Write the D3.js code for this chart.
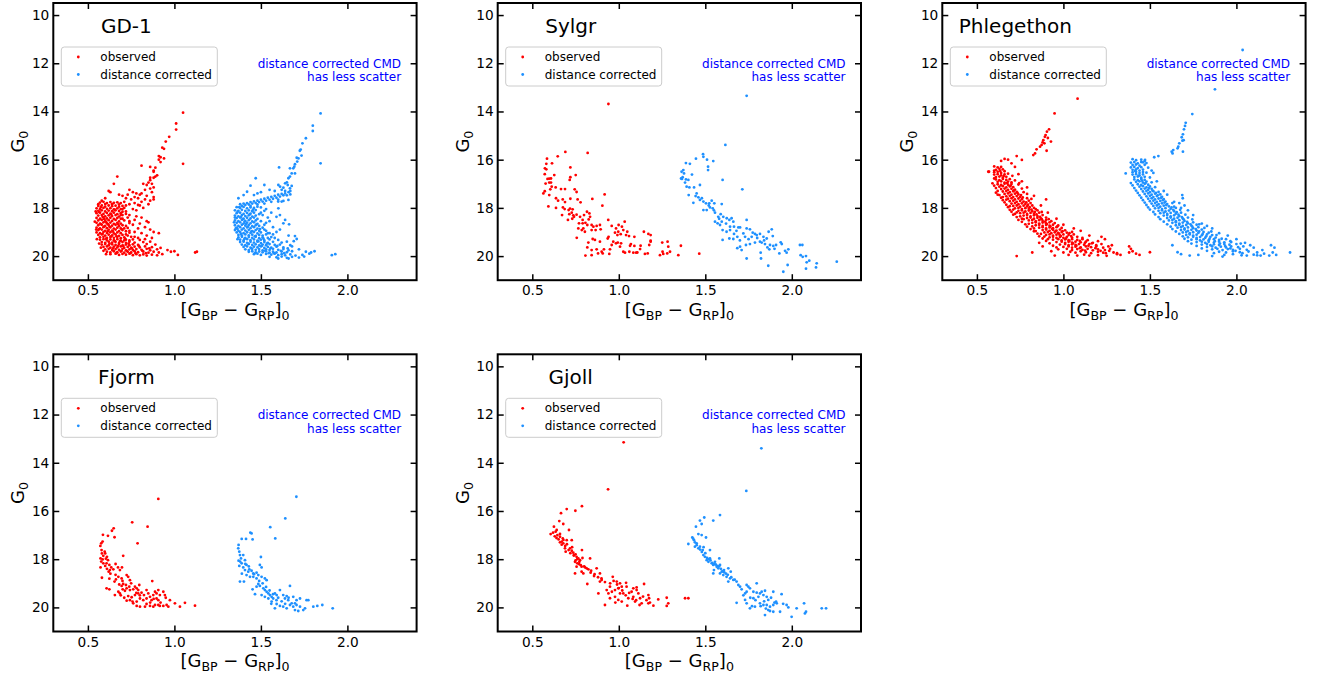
<!DOCTYPE html>
<html>
<head>
<meta charset="utf-8">
<script src="https://cdn.jsdelivr.net/npm/d3@7"></script>
<style>
  body { margin: 0; background: #fff; }
  svg { display: block; font-family: "DejaVu Sans", sans-serif; }
</style>
</head>
<body>
<svg id="chart" width="1321" height="679"></svg>
<script>
// axis ticks
const xTicks = [0.5, 1.0, 1.5, 2.0];
const yTicks = [10, 12, 14, 16, 18, 20];

// GD-1 [colour, G0]
const gd1Obs = [
  [1.05,14.05],[1.01,14.5],[1.01,14.75],[0.97,15.05],[0.95,15.25],[0.93,15.5],[0.94,15.55],[0.91,15.85],[0.92,15.9],[0.94,15.95],
  [0.91,16.0],[0.92,16.1],[1.05,16.17],[0.81,16.25],[0.86,16.3],[0.89,16.33],[0.88,16.45],[0.88,16.5],[0.9,16.65],[0.89,16.7],
  [0.88,16.75],[0.86,16.75],[0.86,16.85],[0.67,16.7],[0.65,17.0],[0.85,16.95],[0.87,17.0],[0.84,17.05],[0.82,17.0],[0.88,17.15],
  [0.86,17.2],[0.83,17.25],[0.87,17.35],[0.81,17.4],[0.8,17.45],[0.78,17.4],[0.76,17.35],[0.74,17.25],[0.73,17.45],[0.72,17.6],
  [0.7,17.5],[0.77,17.55],[0.79,17.6],[0.84,17.5],[0.88,17.55],[0.86,17.7],[0.83,17.65],[0.88,17.65],[0.85,17.85],[0.62,17.3],
  [0.63,17.35],[0.6,17.6],[0.58,17.7],[0.68,17.45],[0.75,17.65],[0.81,17.75],[0.77,17.8],[0.8,17.9],[0.74,17.85],[0.71,17.75],
  [0.79,17.88],[0.82,18.0],[0.78,18.1],[0.76,18.05],[0.72,18.15],[0.74,18.3],[0.78,18.35],[0.81,18.4],[0.77,18.5],[0.74,18.55],
  [0.84,18.55],[0.85,18.6],[0.8,18.65],[0.76,18.7],[0.72,18.75],[0.83,18.8],[0.79,18.85],[0.86,18.9],[0.74,18.95],[0.77,19.0],
  [0.81,19.05],[0.88,19.0],[0.91,19.05],[0.84,19.15],[0.72,19.1],[0.7,18.45],[0.71,18.85],[0.75,19.2],[0.79,19.25],[0.83,19.3],
  [0.87,19.25],[0.69,18.3],[0.7,18.05],[0.71,19.35],
  [0.57,17.78],[0.59,17.75],[0.61,17.8],[0.63,17.76],[0.65,17.79],[0.67,17.77],[0.69,17.8],[0.6,17.84],[0.64,17.85],[0.68,17.86],
  [0.56,17.92],[0.58,17.9],[0.6,17.95],[0.62,17.9],[0.64,17.93],[0.66,17.91],[0.68,17.95],[0.7,17.92],[0.72,17.9],
  [0.55,18.02],[0.57,18.05],[0.59,18.0],[0.61,18.04],[0.63,18.01],[0.65,18.06],[0.67,18.02],[0.69,18.05],[0.71,18.0],
  [0.56,18.12],[0.58,18.1],[0.6,18.15],[0.62,18.11],[0.64,18.14],[0.66,18.1],[0.68,18.13],[0.7,18.16],
  [0.55,18.22],[0.57,18.2],[0.59,18.25],[0.61,18.21],[0.63,18.24],[0.65,18.2],[0.67,18.26],[0.69,18.22],[0.72,18.25],
  [0.56,18.32],[0.58,18.3],[0.6,18.35],[0.62,18.31],[0.64,18.34],[0.66,18.3],[0.68,18.36],[0.7,18.3],
  [0.55,18.42],[0.57,18.45],[0.59,18.4],[0.61,18.44],[0.63,18.41],[0.65,18.46],[0.67,18.42],[0.69,18.45],[0.73,18.4],
  [0.56,18.52],[0.58,18.5],[0.6,18.55],[0.62,18.51],[0.64,18.54],[0.66,18.5],[0.68,18.56],[0.71,18.52],
  [0.55,18.62],[0.57,18.65],[0.59,18.6],[0.61,18.64],[0.63,18.61],[0.65,18.66],[0.67,18.62],[0.69,18.65],[0.74,18.63],
  [0.56,18.72],[0.58,18.7],[0.6,18.75],[0.62,18.71],[0.64,18.74],[0.66,18.7],[0.68,18.76],[0.7,18.72],
  [0.55,18.82],[0.57,18.85],[0.59,18.8],[0.61,18.84],[0.63,18.81],[0.65,18.86],[0.67,18.82],[0.69,18.85],[0.73,18.83],
  [0.56,18.92],[0.58,18.9],[0.6,18.95],[0.62,18.91],[0.64,18.94],[0.66,18.9],[0.68,18.96],[0.7,18.92],[0.72,18.97],
  [0.55,19.02],[0.57,19.05],[0.59,19.0],[0.61,19.04],[0.63,19.01],[0.65,19.06],[0.67,19.02],[0.69,19.05],[0.74,19.03],
  [0.56,19.12],[0.58,19.1],[0.6,19.15],[0.62,19.11],[0.64,19.14],[0.66,19.1],[0.68,19.16],[0.7,19.12],[0.73,19.15],
  [0.57,19.22],[0.59,19.2],[0.61,19.25],[0.63,19.21],[0.65,19.24],[0.67,19.2],[0.69,19.26],[0.71,19.22],[0.77,19.2],
  [0.57,19.32],[0.59,19.3],[0.61,19.35],[0.63,19.31],[0.65,19.34],[0.67,19.3],[0.69,19.36],[0.72,19.32],[0.74,19.35],[0.76,19.31],[0.8,19.33],
  [0.58,19.42],[0.6,19.45],[0.62,19.4],[0.64,19.44],[0.66,19.41],[0.68,19.46],[0.7,19.42],[0.72,19.45],[0.74,19.41],[0.77,19.44],[0.82,19.42],[0.86,19.4],
  [0.58,19.52],[0.6,19.5],[0.62,19.55],[0.64,19.51],[0.66,19.54],[0.68,19.5],[0.7,19.56],[0.72,19.52],[0.74,19.55],[0.76,19.51],[0.79,19.54],[0.84,19.5],[0.89,19.52],
  [0.59,19.62],[0.61,19.6],[0.63,19.65],[0.65,19.61],[0.67,19.64],[0.69,19.6],[0.71,19.66],[0.73,19.62],[0.75,19.65],[0.77,19.61],[0.8,19.64],[0.83,19.6],[0.87,19.63],[0.92,19.66],
  [0.6,19.72],[0.62,19.7],[0.64,19.75],[0.66,19.71],[0.68,19.74],[0.7,19.7],[0.72,19.76],[0.74,19.72],[0.76,19.75],[0.78,19.71],[0.81,19.74],[0.84,19.7],[0.86,19.76],[0.9,19.72],[0.96,19.75],
  [0.61,19.82],[0.63,19.85],[0.65,19.8],[0.67,19.84],[0.69,19.81],[0.71,19.86],[0.73,19.82],[0.75,19.85],[0.77,19.8],[0.79,19.84],[0.82,19.81],[0.85,19.86],[0.88,19.82],[0.91,19.85],[0.98,19.82],[1.0,19.8],
  [0.63,19.92],[0.66,19.9],[0.68,19.95],[0.7,19.91],[0.72,19.94],[0.74,19.9],[0.76,19.96],[0.78,19.92],[0.8,19.97],[0.82,19.93],[0.84,19.98],[0.87,19.94],[0.9,19.97],[0.93,19.92],[1.02,19.95],[1.12,19.85],[1.13,19.82],
  [0.565,18.17],[0.585,18.37],[0.605,18.58],[0.625,18.78],[0.645,18.98],[0.665,19.18],[0.685,19.38],[0.705,19.58],[0.725,19.78],[0.745,19.88],
  [0.575,17.97],[0.595,18.47],[0.615,18.67],[0.635,18.27],[0.655,18.07],[0.675,18.68],[0.695,18.88],[0.715,19.28],[0.735,19.48],[0.755,19.68],
  [0.775,19.88],[0.795,19.58],[0.815,19.78],[0.835,19.88],[0.855,19.68],[0.565,18.88],[0.585,19.08],[0.605,19.28],[0.625,19.48],[0.645,19.68],
  [0.665,19.88],[0.575,18.67],[0.595,18.77],[0.615,18.97],[0.635,19.18],[0.655,19.38],[0.675,19.58],[0.695,19.78],
  [0.545,18.15],[0.54,18.57],[0.548,18.9],[0.552,19.3],[0.565,19.48],[0.575,19.65],[0.59,19.78],[0.605,19.92],[0.56,17.85]
];
const gd1Cor = [
  [1.845,14.08],[1.8,14.59],[1.8,14.81],[1.76,15.11],[1.74,15.32],[1.73,15.58],[1.725,15.63],[1.735,15.83],[1.707,15.92],[1.717,15.95],
  [1.71,16.08],[1.697,16.19],[1.845,16.15],[1.605,16.32],[1.668,16.36],[1.687,16.36],[1.693,16.29],[1.678,16.57],[1.697,16.57],[1.668,16.7],
  [1.659,16.77],[1.65,16.94],[1.64,16.98],[1.655,17.05],[1.678,17.09],[1.668,17.19],[1.601,17.05],[1.611,17.12],[1.63,17.16],[1.62,17.25],
  [1.64,17.3],[1.67,17.44],[1.44,17.08],[1.47,16.77],[1.52,17.05],[1.48,17.4],[1.46,17.47],[1.42,17.33],[1.4,17.47],[1.37,17.6],
  [1.55,17.25],[1.58,17.3],[1.5,17.35],
  [1.38,17.85],[1.4,17.82],[1.42,17.8],[1.44,17.76],[1.46,17.73],[1.48,17.7],[1.5,17.66],[1.52,17.62],[1.54,17.58],[1.56,17.54],
  [1.58,17.5],[1.6,17.45],[1.62,17.42],[1.39,17.92],[1.41,17.88],[1.43,17.86],[1.45,17.82],[1.47,17.8],[1.49,17.76],[1.51,17.74],
  [1.53,17.7],[1.55,17.66],[1.57,17.62],[1.59,17.58],[1.61,17.53],[1.63,17.48],[1.44,17.92],[1.48,17.86],[1.52,17.82],[1.56,17.75],
  [1.6,17.66],[1.64,17.4],[1.66,17.35],[1.65,17.48],[1.67,17.3],
  [1.659,17.67],[1.62,17.74],[1.63,17.71],[1.6,17.74],[1.601,18.02],[1.61,18.3],[1.59,18.37],[1.63,18.64],[1.64,18.5],[1.663,18.68],
  [1.697,19.17],[1.707,19.29],[1.69,19.38],[1.66,19.15],[1.61,18.9],[1.59,19.0],[1.56,18.2],[1.57,18.8],[1.55,18.55],[1.53,18.05],
  [1.54,18.4],[1.52,18.7],[1.57,19.1],[1.58,19.25],[1.55,19.05],[1.53,18.95],[1.5,18.2],
  [1.36,17.97],[1.38,18.0],[1.4,17.96],[1.42,18.02],[1.44,17.98],[1.46,18.0],[1.48,17.95],[1.5,17.98],
  [1.35,18.1],[1.37,18.12],[1.39,18.08],[1.41,18.13],[1.43,18.1],[1.45,18.14],[1.47,18.09],[1.52,18.12],
  [1.36,18.22],[1.38,18.2],[1.4,18.25],[1.42,18.21],[1.44,18.24],[1.46,18.2],[1.49,18.26],
  [1.35,18.32],[1.37,18.35],[1.39,18.3],[1.41,18.34],[1.43,18.31],[1.45,18.36],[1.47,18.32],[1.51,18.3],
  [1.36,18.42],[1.38,18.4],[1.4,18.45],[1.42,18.41],[1.44,18.44],[1.46,18.4],[1.48,18.46],
  [1.35,18.52],[1.37,18.55],[1.39,18.5],[1.41,18.54],[1.43,18.51],[1.45,18.56],[1.47,18.52],[1.5,18.55],
  [1.36,18.62],[1.38,18.6],[1.4,18.65],[1.42,18.61],[1.44,18.64],[1.46,18.6],[1.48,18.66],[1.53,18.62],
  [1.35,18.72],[1.37,18.75],[1.39,18.7],[1.41,18.74],[1.43,18.71],[1.45,18.76],[1.47,18.72],[1.49,18.75],
  [1.36,18.82],[1.38,18.8],[1.4,18.85],[1.42,18.81],[1.44,18.84],[1.46,18.8],[1.48,18.86],[1.51,18.82],
  [1.35,18.92],[1.37,18.95],[1.39,18.9],[1.41,18.94],[1.43,18.91],[1.45,18.96],[1.47,18.92],[1.49,18.95],[1.52,18.9],
  [1.36,19.02],[1.38,19.0],[1.4,19.05],[1.42,19.01],[1.44,19.04],[1.46,19.0],[1.48,19.06],[1.5,19.02],[1.54,19.05],
  [1.37,19.12],[1.39,19.15],[1.41,19.1],[1.43,19.14],[1.45,19.11],[1.47,19.16],[1.49,19.12],[1.51,19.15],[1.53,19.1],
  [1.37,19.22],[1.39,19.2],[1.41,19.25],[1.43,19.21],[1.45,19.24],[1.47,19.2],[1.49,19.26],[1.51,19.22],[1.54,19.25],[1.56,19.21],
  [1.38,19.32],[1.4,19.35],[1.42,19.3],[1.44,19.34],[1.46,19.31],[1.48,19.36],[1.5,19.32],[1.52,19.35],[1.55,19.31],[1.6,19.33],
  [1.38,19.42],[1.4,19.4],[1.42,19.45],[1.44,19.41],[1.46,19.44],[1.48,19.4],[1.5,19.46],[1.52,19.42],[1.54,19.45],[1.57,19.41],[1.62,19.44],[1.65,19.4],
  [1.39,19.52],[1.41,19.55],[1.43,19.5],[1.45,19.54],[1.47,19.51],[1.49,19.56],[1.51,19.52],[1.53,19.55],[1.55,19.5],[1.58,19.54],[1.61,19.52],[1.67,19.55],
  [1.4,19.62],[1.42,19.6],[1.44,19.65],[1.46,19.61],[1.48,19.64],[1.5,19.6],[1.52,19.66],[1.54,19.62],[1.56,19.65],[1.59,19.61],[1.63,19.64],[1.68,19.6],
  [1.41,19.72],[1.43,19.75],[1.45,19.7],[1.47,19.74],[1.49,19.71],[1.51,19.76],[1.53,19.72],[1.55,19.75],[1.57,19.7],[1.6,19.74],[1.63,19.71],[1.66,19.76],[1.72,19.72],
  [1.43,19.82],[1.45,19.8],[1.47,19.85],[1.49,19.81],[1.51,19.84],[1.53,19.8],[1.55,19.86],[1.57,19.82],[1.59,19.85],[1.62,19.81],[1.65,19.84],[1.68,19.8],[1.76,19.82],[1.79,19.85],[1.81,19.8],
  [1.46,19.92],[1.48,19.9],[1.5,19.95],[1.53,19.91],[1.56,19.94],[1.58,19.9],[1.6,19.96],[1.62,19.92],[1.64,19.97],[1.67,19.93],[1.7,19.98],[1.74,19.95],[1.78,19.9],[1.91,19.96],[1.93,19.92],
  [1.55,20.03],[1.59,20.05],[1.62,20.02],[1.65,20.07],[1.68,20.03],[1.72,20.06],[1.75,20.02],[1.6,20.1],[1.66,20.1],
  [1.365,18.17],[1.385,18.37],[1.405,18.58],[1.425,18.78],[1.445,18.98],[1.465,19.18],[1.485,19.38],[1.505,19.58],[1.525,19.78],[1.545,19.88],
  [1.375,17.97],[1.395,18.47],[1.415,18.67],[1.435,18.27],[1.455,18.07],[1.475,18.68],[1.495,18.88],[1.515,19.28],[1.535,19.48],[1.555,19.68],
  [1.575,19.88],[1.595,19.58],[1.615,19.78],[1.635,19.88],[1.655,19.68],[1.365,18.88],[1.385,19.08],[1.405,19.28],[1.425,19.48],[1.445,19.68],
  [1.465,19.88],[1.345,18.6],[1.35,18.4],[1.355,18.85],[1.365,19.3]
];

// Sylgr
const sylgrObs = [
  [0.94,13.69],[0.691,15.68],[0.82,15.72],[0.647,15.86],[0.585,15.96],[0.614,16.15],[0.581,16.17],[0.72,16.32],[0.573,16.36],[0.581,16.4],
  [0.751,16.64],[0.627,16.64],[0.572,16.6],[0.598,16.79],[0.588,16.8],[0.608,16.78],[0.72,16.73],[0.716,16.84],[0.598,16.95],[0.577,16.99],
  [0.608,16.95],[0.635,17.15],[0.666,17.22],[0.689,17.22],[0.745,17.23],[0.756,17.34],[0.612,17.12],[0.604,17.23],[0.572,17.31],[0.564,17.4],
  [0.918,17.44],[0.598,17.47],[0.637,17.6],[0.649,17.7],[0.676,17.65],[0.689,17.76],[0.72,17.62],[0.762,17.65],[0.779,17.77],[0.847,17.63],
  [0.593,17.94],[0.637,18.0],[0.677,17.98],[0.687,18.05],[0.71,18.09],[0.718,18.03],[0.733,18.06],[0.905,17.91],[0.672,18.3],[0.714,18.26],
  [0.728,18.2],[0.737,18.31],[0.706,18.5],[0.731,18.45],[0.741,18.37],[0.756,18.28],[0.776,18.37],[0.799,18.3],[0.816,18.16],[0.83,18.23],
  [0.834,18.37],[0.791,18.5],[0.826,18.48],[0.77,18.64],[0.791,18.64],[0.807,18.62],[0.818,18.71],[0.766,18.85],[0.843,18.71],[0.853,18.78],
  [0.872,18.75],[0.891,18.71],[0.895,18.89],[0.866,18.92],[0.939,18.5],[0.959,18.75],[0.984,18.85],[0.999,18.71],[1.034,18.57],[1.018,18.78],
  [1.026,18.92],[0.997,18.99],[0.978,19.03],[0.992,19.13],[1.011,19.09],[1.042,19.13],[1.059,19.17],[1.09,19.2],[1.049,18.99],[0.795,18.85],
  [0.786,18.92],[0.804,18.99],[0.843,18.92],[0.757,19.24],[0.849,19.29],[0.862,19.33],[0.891,19.4],[0.941,19.2],[0.936,19.27],[0.984,19.47],
  [0.994,19.44],[1.013,19.47],[1.065,19.57],[1.07,19.5],[1.09,19.58],[1.126,19.57],[1.145,18.99],[1.171,19.08],[1.184,19.13],[1.184,19.4],
  [0.824,19.44],[0.818,19.64],[0.843,19.75],[0.872,19.72],[0.901,19.82],[0.914,19.72],[0.949,19.72],[0.945,19.91],[0.907,19.89],[0.88,19.89],
  [0.843,19.96],[0.807,19.98],[0.968,19.4],[0.959,19.54],[1.007,19.61],[1.026,19.82],[1.036,19.86],[1.061,19.82],[1.084,19.86],[1.1,19.86],
  [1.107,19.85],[1.123,19.71],[1.151,19.91],[1.167,19.89],[1.176,19.54],[1.184,19.36],[1.238,19.96],[1.253,19.82],[1.257,19.91],[1.28,19.89],
  [1.296,19.82],[1.286,19.61],[1.251,19.44],[1.282,19.4],[1.344,19.96],[1.359,19.57],[1.465,19.9]
];
const sylgrCor = [
  [1.739,13.35],[1.616,15.39],[1.487,15.77],[1.489,15.88],[1.446,15.96],[1.51,16.0],[1.546,16.06],[1.388,16.14],[1.411,16.17],[1.516,16.29],
  [1.516,16.43],[1.423,16.62],[1.373,16.43],[1.363,16.5],[1.377,16.57],[1.369,16.73],[1.388,16.82],[1.402,16.84],[1.383,16.95],[1.392,17.12],
  [1.408,17.15],[1.435,17.15],[1.469,17.05],[1.6,16.84],[1.36,16.78],[1.365,16.8],[1.714,17.23],[1.404,17.47],[1.444,17.51],[1.46,17.56],
  [1.431,17.79],[1.469,17.67],[1.489,17.74],[1.504,17.81],[1.523,17.81],[1.537,17.7],[1.552,17.81],[1.595,17.84],[1.527,17.98],[1.543,18.02],
  [1.508,18.09],[1.489,18.09],[1.556,18.2],[1.575,18.37],[1.589,18.26],[1.604,18.37],[1.624,18.43],[1.639,18.5],[1.652,18.43],[1.662,18.57],
  [1.571,18.64],[1.585,18.71],[1.556,18.57],[1.595,18.57],[1.666,18.78],[1.643,18.78],[1.6,18.92],[1.623,18.99],[1.643,18.92],[1.666,19.08],
  [1.691,18.81],[1.701,18.81],[1.739,18.5],[1.72,19.06],[1.73,19.2],[1.685,19.2],[1.639,19.27],[1.6,19.33],[1.662,19.29],[1.739,18.85],
  [1.758,18.89],[1.774,19.03],[1.787,19.08],[1.768,19.2],[1.797,19.13],[1.816,19.08],[1.836,19.2],[1.866,18.99],[1.884,18.89],[1.89,19.17],
  [1.855,19.27],[1.816,19.4],[1.787,19.44],[1.758,19.5],[1.735,19.54],[1.701,19.61],[1.685,19.67],[1.71,19.75],[1.826,19.44],[1.845,19.5],
  [1.874,19.54],[1.893,19.58],[1.909,19.54],[1.87,19.72],[1.859,19.64],[1.936,19.43],[1.942,19.5],[1.928,19.89],[1.961,19.78],[1.98,19.72],
  [1.97,19.86],[2.047,19.54],[2.063,20.03],[2.051,19.96],[2.082,20.0],[2.086,20.26],[2.101,20.19],[2.144,20.3],[2.14,20.47],[2.082,20.52],
  [1.864,20.4],[1.822,20.1],[1.82,19.86],[1.739,20.1],[1.951,20.65],[1.976,20.37],[2.26,20.23],[2.061,19.54],[1.45,17.4],[1.48,17.6],
  [1.52,17.9],[1.55,18.1],[1.58,18.45],[1.62,18.65],[1.68,18.95],[1.7,19.35],[1.75,19.3],[1.8,19.25],[1.84,19.35],[1.9,19.7]
];

// Phlegethon
const phlegObs = [
  [1.082,13.47],[0.949,14.08],[0.917,14.74],[0.905,14.84],[0.897,14.98],[0.893,15.05],[0.884,15.19],[0.89,15.32],[0.874,15.39],[0.865,15.46],
  [0.928,15.25],[0.903,15.63],[0.836,15.74],[0.826,15.81],[0.845,15.57],[0.91,15.1],[0.88,15.28],
  [0.6,16.28],[0.62,16.32],[0.64,16.3],[0.61,16.42],[0.63,16.38],[0.6,16.45],[0.65,16.4],
  [0.6,16.52],[0.62,16.5],[0.64,16.55],[0.66,16.48],[0.57,16.5],[0.6,16.62],[0.62,16.6],[0.64,16.65],[0.66,16.61],[0.68,16.58],
  [0.61,16.72],[0.63,16.7],[0.65,16.75],[0.67,16.71],[0.6,16.78],[0.61,16.82],[0.63,16.85],[0.65,16.8],[0.67,16.84],[0.69,16.81],[0.72,16.86],
  [0.62,16.92],[0.64,16.9],[0.66,16.95],[0.68,16.91],[0.7,16.94],[0.62,17.02],[0.64,17.05],[0.66,17.0],[0.68,17.04],[0.7,17.01],[0.74,17.03],
  [0.63,17.12],[0.65,17.1],[0.67,17.15],[0.69,17.11],[0.71,17.14],[0.64,17.22],[0.66,17.2],[0.68,17.25],[0.7,17.21],[0.72,17.24],[0.76,17.2],
  [0.65,17.32],[0.67,17.3],[0.69,17.35],[0.71,17.31],[0.73,17.34],[0.66,17.42],[0.68,17.4],[0.7,17.45],[0.72,17.41],[0.74,17.44],[0.79,17.42],
  [0.67,17.52],[0.69,17.5],[0.71,17.55],[0.73,17.51],[0.75,17.54],[0.68,17.62],[0.7,17.6],[0.72,17.65],[0.74,17.61],[0.76,17.64],[0.79,17.6],
  [0.69,17.72],[0.71,17.7],[0.73,17.75],[0.75,17.71],[0.77,17.74],[0.8,17.7],[0.7,17.82],[0.72,17.8],[0.74,17.85],[0.76,17.81],[0.78,17.84],[0.81,17.8],
  [0.71,17.92],[0.73,17.9],[0.75,17.95],[0.77,17.91],[0.79,17.94],[0.82,17.9],[0.72,18.02],[0.74,18.0],[0.76,18.05],[0.78,18.01],[0.8,18.04],[0.83,18.0],
  [0.74,18.12],[0.76,18.1],[0.78,18.15],[0.8,18.11],[0.82,18.14],[0.85,18.1],[0.75,18.22],[0.77,18.2],[0.79,18.25],[0.81,18.21],[0.83,18.24],[0.86,18.2],[0.72,18.25],
  [0.77,18.32],[0.79,18.3],[0.81,18.35],[0.83,18.31],[0.85,18.34],[0.88,18.3],[0.79,18.42],[0.81,18.4],[0.83,18.45],[0.85,18.41],[0.87,18.44],[0.9,18.4],[0.76,18.45],
  [0.8,18.52],[0.82,18.5],[0.84,18.55],[0.86,18.51],[0.88,18.54],[0.9,18.5],[0.93,18.55],[0.82,18.62],[0.84,18.6],[0.86,18.65],[0.88,18.61],[0.9,18.64],[0.92,18.6],[0.95,18.63],
  [0.84,18.72],[0.86,18.7],[0.88,18.75],[0.9,18.71],[0.92,18.74],[0.94,18.7],[0.97,18.73],[0.86,18.82],[0.88,18.8],[0.9,18.85],[0.92,18.81],[0.94,18.84],[0.96,18.8],[0.99,18.83],[0.83,18.85],
  [0.88,18.92],[0.9,18.9],[0.92,18.95],[0.94,18.91],[0.96,18.94],[0.98,18.9],[1.01,18.93],[0.89,19.02],[0.91,19.0],[0.93,19.05],[0.95,19.01],[0.97,19.04],[0.99,19.0],[1.02,19.03],[1.05,19.0],
  [0.9,19.12],[0.92,19.1],[0.94,19.15],[0.96,19.11],[0.98,19.14],[1.0,19.1],[1.03,19.13],[1.06,19.1],
  [0.92,19.22],[0.94,19.2],[0.96,19.25],[0.98,19.21],[1.0,19.24],[1.02,19.2],[1.05,19.23],[1.08,19.2],[1.11,19.25],
  [0.94,19.32],[0.97,19.3],[0.99,19.35],[1.01,19.31],[1.03,19.34],[1.05,19.3],[1.08,19.33],[1.11,19.3],[1.14,19.34],
  [0.96,19.42],[0.99,19.4],[1.01,19.45],[1.03,19.41],[1.05,19.44],[1.07,19.4],[1.1,19.43],[1.13,19.4],[1.17,19.45],[1.2,19.38],
  [0.98,19.52],[1.01,19.5],[1.03,19.55],[1.05,19.51],[1.07,19.54],[1.09,19.5],[1.12,19.53],[1.15,19.5],[1.19,19.55],[1.22,19.5],
  [1.0,19.62],[1.03,19.6],[1.05,19.65],[1.07,19.61],[1.1,19.64],[1.13,19.6],[1.16,19.63],[1.19,19.6],[1.23,19.65],[1.26,19.6],
  [0.97,19.72],[1.02,19.7],[1.05,19.75],[1.08,19.71],[1.11,19.74],[1.14,19.7],[1.17,19.76],[1.2,19.72],[1.24,19.75],[1.27,19.7],
  [1.0,19.85],[1.04,19.82],[1.07,19.86],[1.1,19.8],[1.13,19.84],[1.16,19.88],[1.2,19.82],[1.23,19.86],[1.29,19.85],[1.31,19.88],
  [0.95,19.98],[1.03,19.95],[1.08,19.98],[1.12,19.94],[1.15,19.98],[1.2,19.96],[1.25,19.99],[1.31,19.92],
  [0.566,16.5],[0.73,15.85],[0.76,16.01],[0.66,15.97],[0.68,16.0],[0.64,16.05],[0.7,16.15],[0.72,16.3],[0.74,16.6],[0.76,16.9],
  [0.77,17.35],[0.79,17.15],[0.83,17.5],[0.87,17.9],[0.9,17.65],[0.84,18.05],[0.91,18.2],[0.96,18.45],[1.0,18.7],[1.06,18.85],
  [1.1,18.95],[1.15,19.15],[1.24,19.3],[1.22,19.2],[1.28,19.55],[1.38,19.6],[1.39,19.7],[1.4,19.8],[1.42,19.9],[1.44,19.95],
  [1.38,19.85],[1.5,19.84],[0.73,20.0],[0.82,19.85],[0.88,19.6],[0.86,19.45],[0.93,19.8],[1.33,19.95],
  [0.59,16.98],[0.6,17.08],[0.61,17.18],[0.62,17.3],[0.61,17.37],[0.63,17.47],[0.64,17.58],[0.65,17.68],[0.66,17.77],[0.67,17.87],
  [0.68,17.97],[0.69,18.08],[0.7,18.16],[0.71,18.28],[0.73,18.38],[0.74,18.5],[0.76,18.58],[0.78,18.68],[0.79,18.78],[0.81,18.88],
  [0.83,18.97],[0.85,19.07],[0.86,19.18],[0.88,19.27],[0.9,19.37],[0.92,19.47],[0.94,19.57],[0.96,19.64],[0.62,17.45],[0.65,17.55],
  [0.67,17.66],[0.69,17.93],[0.71,18.07],[0.73,18.19],[0.75,18.35],[0.77,18.47],[0.8,18.66],[0.82,18.77],[0.84,18.96],[0.87,19.08],
  [0.89,19.19],[0.91,19.3],
  [0.635,16.47],[0.655,16.68],[0.675,16.97],[0.695,17.08],[0.715,17.27],[0.735,17.38],[0.755,17.47],[0.765,17.57],[0.785,17.77],[0.795,17.87],
  [0.805,17.97],[0.815,18.07],[0.835,18.17],[0.845,18.27],[0.865,18.37],[0.875,18.47],[0.895,18.57],[0.905,18.67],[0.925,18.77],[0.935,18.87],
  [0.955,18.97],[0.975,19.07],[0.985,19.17],[1.015,19.27],[1.035,19.37],[1.055,19.47],[1.075,19.57],[1.095,19.67],[1.125,19.77],[1.145,19.57],
  [1.165,19.47],[1.185,19.67],[1.215,19.78],[1.245,19.88],[1.265,19.78],[1.095,19.37],[1.125,19.45],[1.045,19.17],[0.995,18.97],[1.035,19.05],
  [0.965,18.77],[0.915,18.47],[0.875,18.17],[0.815,17.63],[0.745,16.97],[0.705,16.67]
];
const phlegCor = [
  [2.036,11.45],[1.876,13.08],[1.745,14.11],[1.707,14.47],[1.703,14.6],[1.697,14.74],[1.691,14.95],[1.684,15.07],[1.688,15.21],[1.695,15.19],
  [1.67,15.32],[1.664,15.46],[1.691,15.67],[1.66,15.53],[1.635,15.6],[1.631,15.74],[1.626,15.67],[1.549,15.85],[1.525,15.9],
  [1.4,15.98],[1.42,16.02],[1.45,16.0],[1.47,16.05],[1.39,16.12],[1.41,16.1],[1.43,16.15],[1.46,16.11],[1.48,16.14],
  [1.4,16.22],[1.42,16.2],[1.44,16.25],[1.47,16.21],[1.39,16.32],[1.41,16.3],[1.43,16.35],[1.45,16.31],[1.49,16.33],
  [1.4,16.42],[1.42,16.4],[1.44,16.45],[1.46,16.41],[1.36,16.57],[1.4,16.52],[1.42,16.5],[1.44,16.55],[1.46,16.51],[1.48,16.54],
  [1.4,16.62],[1.42,16.6],[1.44,16.65],[1.46,16.61],[1.41,16.72],[1.43,16.7],[1.45,16.75],[1.47,16.71],[1.5,16.74],
  [1.41,16.82],[1.43,16.85],[1.45,16.8],[1.47,16.84],[1.42,16.92],[1.44,16.9],[1.46,16.95],[1.48,16.91],[1.51,16.94],
  [1.43,17.02],[1.45,17.05],[1.47,17.0],[1.49,17.04],[1.44,17.12],[1.46,17.1],[1.48,17.15],[1.5,17.11],[1.53,17.14],
  [1.45,17.22],[1.47,17.2],[1.49,17.25],[1.51,17.21],[1.46,17.32],[1.48,17.3],[1.5,17.35],[1.52,17.31],[1.55,17.34],
  [1.47,17.42],[1.49,17.4],[1.51,17.45],[1.53,17.41],[1.56,17.44],[1.48,17.52],[1.5,17.5],[1.52,17.55],[1.54,17.51],[1.57,17.54],
  [1.49,17.62],[1.51,17.6],[1.53,17.65],[1.55,17.61],[1.58,17.64],[1.5,17.72],[1.52,17.7],[1.54,17.75],[1.56,17.71],[1.59,17.74],
  [1.51,17.82],[1.53,17.8],[1.55,17.85],[1.57,17.81],[1.6,17.84],[1.63,17.8],[1.52,17.92],[1.54,17.9],[1.56,17.95],[1.58,17.91],[1.61,17.94],
  [1.53,18.02],[1.55,18.0],[1.57,18.05],[1.59,18.01],[1.62,18.04],[1.65,18.0],[1.55,18.12],[1.57,18.1],[1.59,18.15],[1.61,18.11],[1.64,18.14],
  [1.56,18.22],[1.58,18.2],[1.6,18.25],[1.62,18.21],[1.65,18.24],[1.68,18.2],[1.58,18.32],[1.6,18.3],[1.62,18.35],[1.64,18.31],[1.67,18.34],
  [1.6,18.42],[1.62,18.4],[1.64,18.45],[1.66,18.41],[1.69,18.44],[1.72,18.4],[1.61,18.52],[1.63,18.5],[1.65,18.55],[1.67,18.51],[1.7,18.54],
  [1.63,18.62],[1.65,18.6],[1.67,18.65],[1.69,18.61],[1.72,18.64],[1.75,18.6],[1.65,18.72],[1.67,18.7],[1.69,18.75],[1.71,18.71],[1.74,18.74],[1.77,18.7],
  [1.66,18.82],[1.68,18.8],[1.7,18.85],[1.72,18.81],[1.75,18.84],[1.78,18.8],[1.68,18.92],[1.7,18.9],[1.72,18.95],[1.74,18.91],[1.77,18.94],[1.8,18.9],
  [1.69,19.02],[1.71,19.0],[1.73,19.05],[1.75,19.01],[1.78,19.04],[1.81,19.0],[1.84,19.03],
  [1.71,19.12],[1.73,19.1],[1.75,19.15],[1.77,19.11],[1.8,19.14],[1.83,19.1],[1.86,19.13],
  [1.72,19.22],[1.75,19.2],[1.77,19.25],[1.79,19.21],[1.82,19.24],[1.85,19.2],[1.88,19.23],
  [1.74,19.32],[1.77,19.3],[1.79,19.35],[1.81,19.31],[1.84,19.34],[1.87,19.3],[1.9,19.33],[1.94,19.3],
  [1.77,19.42],[1.8,19.4],[1.82,19.45],[1.84,19.41],[1.87,19.44],[1.9,19.4],[1.93,19.43],[1.97,19.42],
  [1.8,19.52],[1.83,19.5],[1.85,19.55],[1.87,19.51],[1.9,19.54],[1.93,19.5],[1.96,19.53],[2.0,19.5],
  [1.83,19.62],[1.86,19.6],[1.88,19.65],[1.91,19.61],[1.94,19.64],[1.97,19.6],[2.01,19.63],[2.04,19.6],
  [1.86,19.72],[1.89,19.7],[1.92,19.75],[1.95,19.71],[1.98,19.74],[2.02,19.7],[2.06,19.74],
  [1.9,19.82],[1.94,19.85],[1.98,19.8],[2.02,19.84],[2.07,19.81],[2.12,19.85],[1.93,19.95],[1.98,19.92],[2.03,19.97],[2.1,19.94],[2.14,19.98],
  [1.472,16.01],[1.45,16.1],[1.51,16.45],[1.52,16.55],[1.54,16.9],[1.58,17.3],[1.6,17.45],[1.64,17.75],[1.67,17.8],[1.69,17.6],
  [1.7,17.9],[1.687,17.47],[1.68,18.0],[1.64,17.95],[1.72,18.1],[1.75,18.3],[1.8,18.65],[1.83,18.75],[1.86,18.85],[1.9,19.05],
  [1.95,19.15],[2.0,19.3],[2.05,19.45],[2.08,19.55],[2.1,19.65],[2.15,19.75],[2.2,19.55],[2.22,19.65],[2.21,19.85],[2.23,19.95],
  [2.19,19.98],[2.31,19.85],[1.63,19.55],[1.66,19.84],[1.68,19.92],[1.73,19.98],[1.78,19.95],[1.86,20.0],[1.92,20.02],[2.06,19.98],
  [2.12,19.97],[2.16,19.9],
  [1.39,16.97],[1.4,17.07],[1.41,17.18],[1.42,17.28],[1.43,17.38],[1.44,17.48],[1.45,17.58],[1.46,17.68],[1.47,17.78],[1.48,17.88],
  [1.49,17.98],[1.5,18.07],[1.52,18.17],[1.53,18.27],[1.55,18.38],[1.56,18.47],[1.58,18.57],[1.6,18.68],[1.62,18.78],[1.63,18.88],
  [1.65,18.98],[1.67,19.08],[1.69,19.18],[1.7,19.28],[1.72,19.38],[1.74,19.48],[1.77,19.58],[1.8,19.68],[1.83,19.78],[1.87,19.88],
  [1.415,16.47],[1.435,16.67],[1.455,16.87],[1.475,16.97],[1.495,17.18],[1.515,17.28],[1.535,17.38],[1.545,17.48],[1.565,17.58],[1.575,17.68],
  [1.585,17.78],[1.595,17.88],[1.625,17.98],[1.635,18.08],[1.655,18.18],[1.665,18.28],[1.685,18.38],[1.695,18.48],[1.715,18.58],[1.735,18.68],
  [1.745,18.78],[1.765,18.88],[1.785,18.98],[1.805,19.08],[1.825,19.18],[1.845,19.28],[1.875,19.38],[1.905,19.48],[1.935,19.58],[1.965,19.68],
  [1.995,19.78],[2.035,19.88],[1.915,19.28],[1.965,19.38],[2.025,19.48],[1.885,19.13],[1.855,18.98],[1.815,18.83],[1.785,18.68],[1.745,18.48],
  [1.705,18.28],[1.675,18.08]
];

// Fjorm
const fjormObs = [
  [0.907,15.5],[0.756,16.47],[0.845,16.65],[0.649,16.72],[0.639,16.82],[0.587,16.99],[0.616,17.03],[0.654,17.09],[0.787,17.34],[0.577,17.34],
  [0.585,17.27],[0.572,17.45],[0.579,17.62],[0.581,17.76],[0.597,17.69],[0.6,17.76],[0.589,17.86],[0.573,17.97],[0.585,18.01],[0.604,17.98],
  [0.616,18.04],[0.577,18.1],[0.589,18.17],[0.608,18.17],[0.624,18.24],[0.573,18.34],[0.635,18.34],[0.647,18.42],[0.627,18.45],[0.62,18.52],
  [0.704,17.86],[0.674,18.34],[0.697,18.34],[0.685,18.45],[0.581,18.77],[0.624,18.81],[0.662,18.84],[0.654,18.93],[0.676,18.73],[0.695,18.8],
  [0.724,18.66],[0.733,18.73],[0.743,18.87],[0.681,19.05],[0.695,19.11],[0.704,19.03],[0.72,19.07],[0.739,19.14],[0.743,19.28],[0.762,19.25],
  [0.772,19.14],[0.782,19.21],[0.797,19.07],[0.791,19.28],[0.724,19.21],[0.714,19.31],[0.701,19.25],[0.872,18.91],[0.608,19.21],[0.624,19.25],
  [0.656,19.49],[0.676,19.35],[0.685,19.42],[0.733,19.53],[0.753,19.58],[0.772,19.49],[0.791,19.42],[0.81,19.39],[0.824,19.49],[0.839,19.28],
  [0.849,19.42],[0.859,19.56],[0.878,19.49],[0.888,19.35],[0.897,19.42],[0.907,19.28],[0.916,19.49],[0.936,19.35],[0.945,19.49],[0.907,19.7],
  [0.897,19.63],[0.868,19.7],[0.839,19.63],[0.82,19.7],[0.801,19.63],[0.782,19.76],[0.762,19.83],[0.743,19.7],[0.907,19.9],[0.916,19.94],
  [0.936,19.94],[0.955,19.9],[0.965,19.97],[0.974,19.7],[1.003,19.83],[1.032,19.97],[1.061,19.81],[1.119,19.93],[0.839,19.86],[0.859,19.94],
  [0.878,19.97],[0.888,19.9],[0.83,19.97],[0.801,19.97],[0.782,19.94],[0.758,19.76],[0.724,19.72],
  [0.6,18.28],[0.61,18.4],[0.63,18.6],[0.66,18.65],[0.7,18.9],[0.75,19.0],[0.78,19.4],[0.8,19.5],[0.86,19.8],[0.88,19.65],
  [0.92,19.8],[0.95,19.6],[0.69,19.5],[0.71,19.6],[0.66,18.2],[0.61,17.9]
];
const fjormCor = [
  [1.705,15.41],[1.641,16.31],[1.554,16.67],[1.583,17.14],[1.439,16.9],[1.446,16.93],[1.389,17.16],[1.414,17.16],[1.452,17.18],[1.371,17.41],
  [1.369,17.55],[1.375,17.69],[1.379,17.83],[1.385,17.97],[1.371,18.06],[1.389,18.17],[1.375,18.28],[1.398,17.83],[1.408,18.04],[1.417,18.24],
  [1.398,18.34],[1.408,18.45],[1.427,18.52],[1.433,18.42],[1.446,18.48],[1.456,18.59],[1.475,18.56],[1.5,17.91],[1.494,18.24],[1.504,18.34],
  [1.485,18.66],[1.504,18.73],[1.523,18.8],[1.533,18.87],[1.475,18.8],[1.456,18.73],[1.417,18.66],[1.437,18.73],[1.379,18.93],[1.402,18.93],
  [1.452,19.25],[1.466,19.45],[1.475,19.14],[1.485,19.03],[1.494,19.11],[1.514,19.21],[1.523,19.28],[1.533,19.35],[1.543,19.42],[1.552,19.49],
  [1.562,19.56],[1.571,19.63],[1.581,19.42],[1.591,19.49],[1.61,19.28],[1.629,19.49],[1.639,19.63],[1.649,19.53],[1.668,19.11],[1.658,19.7],
  [1.687,19.56],[1.706,19.7],[1.726,19.63],[1.697,19.83],[1.706,19.9],[1.726,19.97],[1.755,20.04],[1.764,19.7],[1.774,19.7],[1.803,19.97],
  [1.826,19.94],[1.855,19.9],[1.915,20.04],[1.687,19.97],[1.649,20.04],[1.629,19.97],[1.61,19.94],[1.591,19.86],[1.581,20.04],[1.562,19.76],
  [1.543,19.63],[1.523,19.56],[1.504,19.49],[1.678,19.83],[1.668,19.9],[1.745,20.11],[1.716,20.15],[1.697,20.11],
  [1.38,18.1],[1.39,18.6],[1.41,18.2],[1.43,18.3],[1.46,18.62],[1.49,18.9],[1.51,19.0],[1.53,19.15],[1.55,19.3],[1.57,19.45],
  [1.6,19.6],[1.62,19.75],[1.64,19.85],[1.66,19.6],[1.59,19.7],[1.56,19.85]
];

// Gjoll
const gjollObs = [
  [1.028,13.15],[0.938,15.1],[0.787,15.8],[0.749,15.99],[0.699,15.92],[0.666,16.09],
  [0.656,16.42],[0.679,16.54],[0.625,16.65],[0.641,16.79],[0.606,16.96],[0.635,16.86],[0.645,17.0],[0.66,17.07],[0.676,17.14],[0.67,17.27],
  [0.679,17.34],[0.712,16.79],[0.652,17.18],[0.699,17.21],[0.689,17.55],[0.693,17.69],[0.718,17.55],[0.728,17.65],[0.737,17.73],[0.741,17.83],
  [0.756,17.9],[0.766,17.97],[0.776,18.04],[0.747,18.11],[0.76,18.17],[0.772,18.11],[0.787,17.62],[0.728,17.21],
  [0.62,16.9],[0.63,17.05],[0.64,17.12],[0.66,17.3],[0.67,17.4],[0.69,17.45],[0.7,17.38],[0.71,17.62],[0.72,17.75],[0.74,17.85],
  [0.75,17.8],[0.76,18.0],[0.77,18.2],[0.78,18.25],[0.79,17.95],[0.8,18.3],[0.75,18.05],[0.73,17.5],[0.68,17.2],[0.66,16.95],
  [0.756,18.31],[0.785,18.31],[0.805,18.34],[0.814,18.38],[0.834,17.97],[0.747,18.59],[0.785,18.52],[0.795,18.59],[0.824,18.42],[0.837,18.56],
  [0.857,18.7],[0.872,18.38],[0.891,18.59],[0.901,18.86],[0.891,18.93],[0.818,19.03],[0.882,19.42],[0.92,19.9],[0.94,19.42],[0.93,19.28],
  [0.949,19.14],[0.965,18.73],[0.988,18.93],[1.007,19.0],[1.017,19.14],[1.042,18.98],[1.045,19.14],[0.997,19.21],[1.007,19.42],[0.949,19.62],
  [0.978,19.56],[0.997,19.69],[1.017,19.76],[1.049,19.93],[1.055,19.62],[1.084,19.21],[1.103,19.17],[1.113,19.42],[1.123,19.62],[1.084,19.56],
  [1.094,19.76],[1.132,19.83],[1.146,19.03],[1.171,19.49],[1.175,19.62],[1.171,19.83],[1.2,19.93],[1.228,19.67],[1.277,19.6],[1.286,19.83],
  [1.277,19.94],[1.383,19.62],[1.402,19.62],[1.103,19.28],[1.074,19.35],[1.026,19.42],[0.978,19.28],
  [0.84,18.48],[0.86,18.62],[0.88,18.75],[0.9,18.8],[0.92,18.95],[0.95,19.0],[0.97,18.9],[0.99,19.05],[1.0,19.2],[1.02,19.3],
  [1.04,19.5],[1.06,19.4],[1.08,19.65],[1.1,19.7],[1.12,19.9],[1.14,19.55],[1.16,19.7],[1.18,19.8],[0.96,19.35],[0.98,19.8]
];
const gjollCor = [
  [1.824,13.4],[1.737,15.17],[1.585,16.17],[1.546,16.4],[1.494,16.27],[1.469,16.4],[1.479,16.54],[1.446,16.65],
  [1.425,17.1],[1.402,17.37],[1.435,17.21],[1.45,17.34],[1.44,17.48],[1.46,17.55],[1.469,17.48],[1.485,17.62],[1.479,17.0],[1.504,17.1],
  [1.46,16.96],[1.489,17.83],[1.498,17.9],[1.508,18.04],[1.518,18.11],[1.527,17.97],[1.537,18.17],[1.546,18.24],[1.556,18.11],[1.566,18.31],
  [1.575,18.38],[1.585,18.24],[1.581,17.97],[1.527,17.62],[1.55,18.45],[1.546,18.59],[1.585,18.59],[1.595,18.52],[1.604,18.66],[1.608,18.45],
  [1.633,18.38],[1.623,18.73],[1.643,18.8],[1.662,18.86],[1.681,18.93],[1.691,19.07],[1.701,19.14],[1.647,18.52],[1.633,18.93],
  [1.44,17.3],[1.45,17.42],[1.47,17.6],[1.48,17.7],[1.5,17.75],[1.51,17.95],[1.52,18.0],[1.53,18.05],[1.54,18.15],[1.55,18.2],
  [1.56,18.22],[1.57,18.28],[1.58,18.3],[1.59,18.4],[1.6,18.5],[1.61,18.55],[1.62,18.6],[1.63,18.65],[1.65,18.75],[1.67,18.85],
  [1.49,17.5],[1.43,17.15],
  [1.739,19.07],[1.749,19.14],[1.758,19.21],[1.73,19.42],[1.739,19.35],[1.778,19.35],[1.797,19.39],[1.816,19.42],[1.826,19.35],[1.836,19.49],
  [1.845,19.31],[1.855,19.56],[1.864,19.69],[1.797,19.0],[1.807,19.56],[1.778,19.62],[1.816,19.83],[1.836,19.9],[1.855,19.9],[1.874,19.97],
  [1.893,19.9],[1.913,19.83],[1.909,19.76],[1.874,20.15],[1.864,20.11],[1.845,20.32],[1.787,19.97],[1.758,20.04],[1.739,19.83],[1.73,19.69],
  [1.681,19.81],[1.893,19.35],[1.941,19.45],[1.97,19.9],[1.999,20.39],[2.028,20.04],[2.071,19.83],[2.076,20.25],[2.082,20.18],[2.173,20.04],
  [2.198,20.04],[1.932,20.18],[1.893,20.18],
  [1.71,19.25],[1.72,19.5],[1.76,19.6],[1.79,19.7],[1.82,19.95],[1.88,19.6],[1.9,19.8],[1.95,19.85],[1.98,20.0],[1.84,19.75],
  [1.77,19.95],[1.85,20.05]
];

const panels = [
  { name: 'GD-1', observed: gd1Obs, corrected: gd1Cor, col: 0, row: 0 },
  { name: 'Sylgr', observed: sylgrObs, corrected: sylgrCor, col: 1, row: 0 },
  { name: 'Phlegethon', observed: phlegObs, corrected: phlegCor, col: 2, row: 0 },
  { name: 'Fjorm', observed: fjormObs, corrected: fjormCor, col: 0, row: 1 },
  { name: 'Gjoll', observed: gjollObs, corrected: gjollCor, col: 1, row: 1 }
];

const obsColor = '#ff0000';
const corColor = '#1e90ff';

// layout
const colLeft = [53.3, 497.7, 942.3];
const rowTop = [3, 354.3];
const W = 363.3, H = 277.2;
const dotR = 1.4;

const svg = d3.select('#chart');

const x = d3.scaleLinear().domain([0.3, 2.4]).range([0, W]);
const y = d3.scaleLinear().domain([9.5, 21]).range([0, H]);

panels.forEach(p => {
  const g = svg.append('g')
    .attr('transform', `translate(${colLeft[p.col]},${rowTop[p.row]})`);

  // data points
  const drawPts = (data, color) => {
    g.append('g').selectAll('circle')
      .data(data)
      .enter().append('circle')
      .attr('cx', d => x(d[0]))
      .attr('cy', d => y(d[1]))
      .attr('r', dotR)
      .attr('fill', color);
  };
  drawPts(p.observed, obsColor);
  drawPts(p.corrected, corColor);

  // axes, ticks pointing in on all four sides
  const styleAxis = sel => {
    sel.select('.domain').remove();
    sel.selectAll('.tick line').attr('stroke', '#000').attr('stroke-width', 1.5);
    sel.selectAll('.tick text')
      .attr('fill', '#000')
      .style('font-size', '13.7px')
      .style('font-family', '"DejaVu Sans", sans-serif');
  };

  g.append('g')
    .attr('transform', `translate(0,${H})`)
    .call(d3.axisBottom(x).tickValues(xTicks).tickFormat(d3.format('.1f')).tickSize(-6).tickPadding(5.5))
    .call(styleAxis);
  g.append('g')
    .call(d3.axisTop(x).tickValues(xTicks).tickFormat('').tickSize(-6))
    .call(styleAxis);
  g.append('g')
    .call(d3.axisLeft(y).tickValues(yTicks).tickFormat(d3.format('d')).tickSize(-6).tickPadding(4))
    .call(styleAxis);
  g.append('g')
    .attr('transform', `translate(${W},0)`)
    .call(d3.axisRight(y).tickValues(yTicks).tickFormat('').tickSize(-6))
    .call(styleAxis);

  // frame
  g.append('rect')
    .attr('width', W).attr('height', H)
    .attr('fill', 'none')
    .attr('stroke', '#000')
    .attr('stroke-width', 2);

  // title
  g.append('text')
    .attr('x', 73).attr('y', 29.5)
    .attr('text-anchor', 'middle')
    .style('font-size', '20px')
    .text(p.name);

  // legend
  const lg = g.append('g').attr('transform', 'translate(8,44)');
  lg.append('rect')
    .attr('width', 156).attr('height', 39)
    .attr('rx', 3)
    .attr('fill', '#fff').attr('fill-opacity', 0.8)
    .attr('stroke', '#cccccc').attr('stroke-width', 1);
  [['observed', obsColor], ['distance corrected', corColor]].forEach(([label, color], i) => {
    lg.append('circle').attr('cx', 17).attr('cy', 10 + i * 17.5).attr('r', dotR).attr('fill', color);
    lg.append('text')
      .attr('x', 39).attr('y', 14.2 + i * 17.5)
      .style('font-size', '12px')
      .text(label);
  });

  // annotation
  const note = g.append('text')
    .attr('text-anchor', 'end')
    .style('font-size', '12px')
    .attr('fill', '#0000ff');
  note.append('tspan').attr('x', W - 15.5).attr('y', 64.5).text('distance corrected CMD');
  note.append('tspan').attr('x', W - 15.5).attr('y', 78.3).text('has less scatter');

  // x label
  const xl = g.append('text')
    .attr('x', W / 2).attr('y', H + 36)
    .attr('text-anchor', 'middle')
    .style('font-size', '18px');
  xl.append('tspan').text('[G');
  xl.append('tspan').attr('dy', 4).style('font-size', '12.6px').text('BP');
  xl.append('tspan').attr('dy', -4).text(' \u2212 G');
  xl.append('tspan').attr('dy', 4).style('font-size', '12.6px').text('RP');
  xl.append('tspan').attr('dy', -4).text(']');
  xl.append('tspan').attr('dy', 4).style('font-size', '12.6px').text('0');

  // y label
  const yl = g.append('text')
    .attr('transform', `translate(-29,${H / 2}) rotate(-90)`)
    .attr('text-anchor', 'middle')
    .style('font-size', '18px');
  yl.append('tspan').text('G');
  yl.append('tspan').attr('dy', 4).style('font-size', '12.6px').text('0');
});
</script>
</body>
</html>
